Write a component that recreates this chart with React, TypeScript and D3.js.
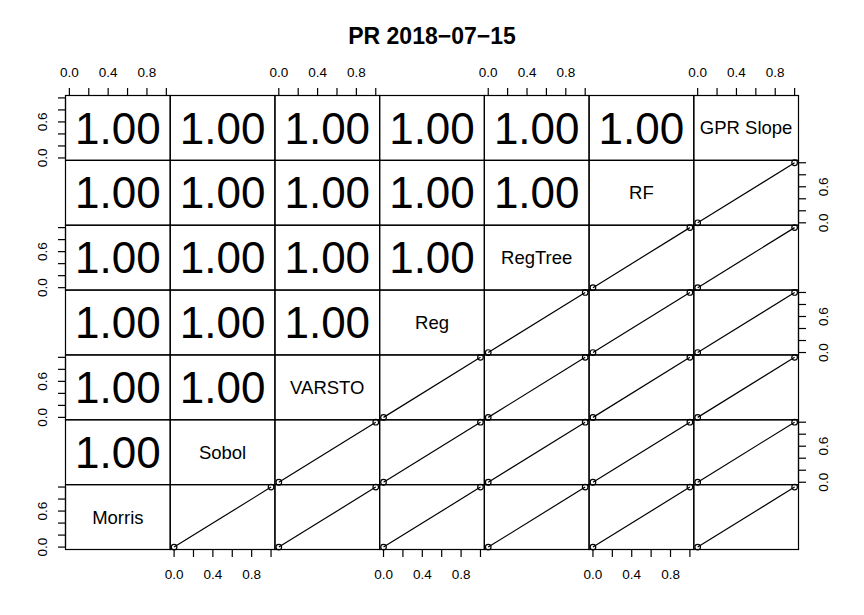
import React from 'react';
import * as d3 from 'd3';

const title = 'PR 2018\u221207\u221215';
const variables = ['Morris', 'Sobol', 'VARSTO', 'Reg', 'RegTree', 'RF', 'GPR Slope'];
const morris = [0, 1];
const sobol = [0, 1];
const varsto = [0, 1];
const reg = [0, 1];
const regTree = [0, 1];
const rf = [0, 1];
const gprSlope = [0, 1];
const seriesValues = [morris, sobol, varsto, reg, regTree, rf, gprSlope];
const tickValues = [0, 0.2, 0.4, 0.6, 0.8, 1.0];
const xTickLabels = [0, 0.4, 0.8];
const yTickLabels = [0, 0.6];

function pearson(a: number[], b: number[]) {
  const ma = d3.mean(a)!;
  const mb = d3.mean(b)!;
  let sab = 0, saa = 0, sbb = 0;
  for (let i = 0; i < a.length; i++) {
    sab += (a[i] - ma) * (b[i] - mb);
    saa += (a[i] - ma) ** 2;
    sbb += (b[i] - mb) ** 2;
  }
  return sab / Math.sqrt(saa * sbb);
}

const FONT = '"Liberation Sans", Arial, Helvetica, sans-serif';

export default function App() {
  const W = 864, H = 615;
  const left = 65.5, right = 798.5, top = 95.5, bottom = 549.5;
  const n = variables.length;
  const pw = (right - left) / n;
  const ph = (bottom - top) / n;
  const tick = 7.5;
  const sw = 1.2;
  const axFont = 13.5;

  const panels: React.ReactNode[] = [];
  for (let i = 0; i < n; i++) {
    const k = n - 1 - i; // variable on this row
    const y0 = top + i * ph;
    const ys = d3.scaleLinear().domain([-0.04, 1.04]).range([y0 + ph, y0]);
    for (let j = 0; j < n; j++) {
      const x0 = left + j * pw;
      const xs = d3.scaleLinear().domain([-0.04, 1.04]).range([x0, x0 + pw]);
      const key = `p${i}-${j}`;
      const els: React.ReactNode[] = [];
      els.push(<rect key="b" x={x0} y={y0} width={pw} height={ph} fill="none" stroke="#000" strokeWidth={sw} />);
      if (j === k) {
        els.push(
          <text key="t" x={x0 + pw / 2} y={y0 + ph / 2 + 6.5} textAnchor="middle" fontSize={18.5} fontFamily={FONT}>
            {variables[k]}
          </text>
        );
      } else if (j < k) {
        const r = pearson(seriesValues[j], seriesValues[k]);
        els.push(
          <text key="t" x={x0 + pw / 2} y={y0 + ph / 2 + 15.6} textAnchor="middle" fontSize={44} fontFamily={FONT}>
            {r.toFixed(2)}
          </text>
        );
      } else {
        const xv = seriesValues[j];
        const yv = seriesValues[k];
        const pts = xv.map((x, idx) => [x, yv[idx]] as [number, number]).sort((a, b) => a[0] - b[0]);
        const line = d3.line<[number, number]>().x(d => xs(d[0])).y(d => ys(d[1]));
        els.push(<path key="l" d={line(pts) || ''} fill="none" stroke="#000" strokeWidth={sw} />);
        pts.forEach((p, idx) => {
          els.push(<circle key={`c${idx}`} cx={xs(p[0])} cy={ys(p[1])} r={2.8} fill="none" stroke="#000" strokeWidth={sw} />);
        });
      }
      // axes
      if (i === 0 && j % 2 === 0) {
        els.push(
          <g key="ax-top">
            <line x1={xs(0)} x2={xs(1)} y1={top} y2={top} stroke="#000" strokeWidth={sw} />
            {tickValues.map(t => (
              <line key={t} x1={xs(t)} x2={xs(t)} y1={top} y2={top - tick} stroke="#000" strokeWidth={sw} />
            ))}
            {xTickLabels.map(t => (
              <text key={`l${t}`} x={xs(t)} y={top - 18.5} textAnchor="middle" fontSize={axFont} fontFamily={FONT}>
                {t.toFixed(1)}
              </text>
            ))}
          </g>
        );
      }
      if (i === n - 1 && j % 2 === 1) {
        els.push(
          <g key="ax-bot">
            <line x1={xs(0)} x2={xs(1)} y1={bottom} y2={bottom} stroke="#000" strokeWidth={sw} />
            {tickValues.map(t => (
              <line key={t} x1={xs(t)} x2={xs(t)} y1={bottom} y2={bottom + tick} stroke="#000" strokeWidth={sw} />
            ))}
            {xTickLabels.map(t => (
              <text key={`l${t}`} x={xs(t)} y={bottom + 29.5} textAnchor="middle" fontSize={axFont} fontFamily={FONT}>
                {t.toFixed(1)}
              </text>
            ))}
          </g>
        );
      }
      if (j === 0 && i % 2 === 0) {
        els.push(
          <g key="ax-left">
            <line x1={left} x2={left} y1={ys(0)} y2={ys(1)} stroke="#000" strokeWidth={sw} />
            {tickValues.map(t => (
              <line key={t} x1={left} x2={left - tick} y1={ys(t)} y2={ys(t)} stroke="#000" strokeWidth={sw} />
            ))}
            {yTickLabels.map(t => (
              <text key={`l${t}`} transform={`translate(${left - 18.5},${ys(t)}) rotate(-90)`} textAnchor="middle" fontSize={axFont} fontFamily={FONT}>
                {t.toFixed(1)}
              </text>
            ))}
          </g>
        );
      }
      if (j === n - 1 && i % 2 === 1) {
        els.push(
          <g key="ax-right">
            <line x1={right} x2={right} y1={ys(0)} y2={ys(1)} stroke="#000" strokeWidth={sw} />
            {tickValues.map(t => (
              <line key={t} x1={right} x2={right + tick} y1={ys(t)} y2={ys(t)} stroke="#000" strokeWidth={sw} />
            ))}
            {yTickLabels.map(t => (
              <text key={`l${t}`} transform={`translate(${right + 29.5},${ys(t)}) rotate(-90)`} textAnchor="middle" fontSize={axFont} fontFamily={FONT}>
                {t.toFixed(1)}
              </text>
            ))}
          </g>
        );
      }
      panels.push(<g key={key}>{els}</g>);
    }
  }

  return (
    <svg width={W} height={H} style={{ position: 'absolute', left: 0, top: 0, background: '#fff' }}>
      <rect x={0} y={0} width={W} height={H} fill="#fff" />
      <text x={432} y={44} textAnchor="middle" fontSize={23} fontWeight="bold" fontFamily={FONT}>
        {title}
      </text>
      {panels}
    </svg>
  );
}
